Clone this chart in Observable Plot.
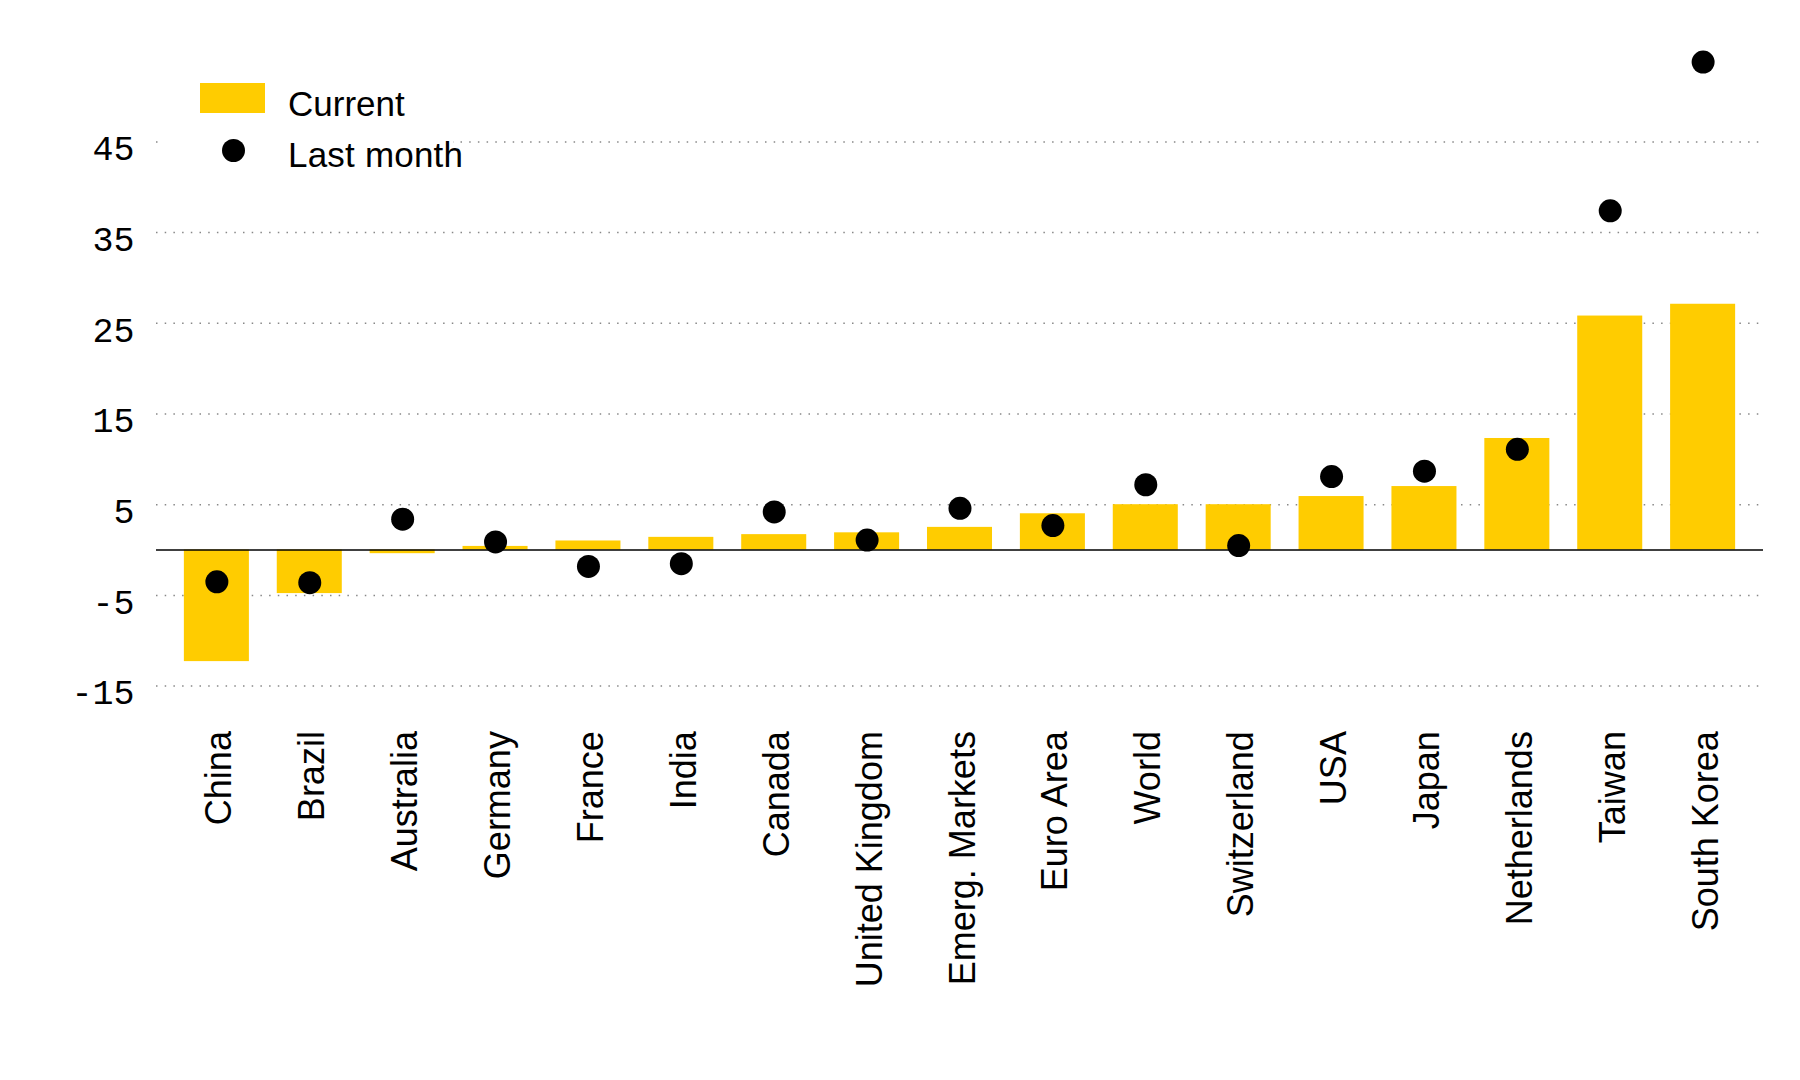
<!DOCTYPE html>
<html>
<head>
<meta charset="utf-8">
<script src="https://cdn.jsdelivr.net/npm/d3@7"></script>
<script src="https://cdn.jsdelivr.net/npm/@observablehq/plot@0.6"></script>
<style>
  html, body { margin: 0; padding: 0; background: #fff; }
  #wrap { position: relative; width: 1800px; height: 1080px; }
  #legend { position: absolute; left: 161px; top: 60px; width: 292px; height: 130px; background: #fff;
            font-family: "Liberation Sans", Arial, sans-serif; font-size: 35px; color: #000; }
  #legend .swatch { position: absolute; left: 39px; top: 23px; width: 65px; height: 30px; background: #FFCC00; }
  #legend .dot { position: absolute; left: 61px; top: 79px; width: 23px; height: 23px; border-radius: 50%; background: #000; }
  #legend .label { position: absolute; left: 127px; line-height: 35px; white-space: nowrap; }
</style>
</head>
<body>
<div id="wrap">
  <div id="chart"></div>
  <div id="legend">
    <div class="swatch"></div>
    <div class="label" style="top:26px">Current</div>
    <div class="dot"></div>
    <div class="label" style="top:77px; letter-spacing:0.2px">Last month</div>
  </div>
</div>
<script>
// Categories, sorted by current value
const categories = ["China", "Brazil", "Australia", "Germany", "France", "India", "Canada",
  "United Kingdom", "Emerg. Markets", "Euro Area", "World", "Switzerland", "USA", "Japan",
  "Netherlands", "Taiwan", "South Korea"];
const current = [-12.3, -4.8, -0.4, 0.4, 1.0, 1.4, 1.7, 1.9, 2.5, 4.0, 5.0, 5.0, 5.9, 7.0, 12.3, 25.8, 27.1];
const lastMonth = [-3.5, -3.6, 3.4, 0.9, -1.8, -1.5, 4.2, 1.1, 4.6, 2.7, 7.2, 0.5, 8.1, 8.7, 11.1, 37.4, 53.8];
const yTicks = [-15, -5, 5, 15, 25, 35, 45];

const rows = categories.map((name, i) => ({name, current: current[i], last: lastMonth[i]}));

const sans = '"Liberation Sans", Arial, sans-serif';
const mono = '"Liberation Mono", "DejaVu Sans Mono", monospace';

const chart = Plot.plot({
  width: 1800,
  height: 1080,
  marginLeft: 156,
  marginRight: 37,
  marginTop: 50.7,
  marginBottom: 394.4,
  style: {background: "#fff", color: "#000"},
  x: {domain: categories, padding: 0.3, round: false, label: null},
  y: {domain: [-15, 55], label: null},
  marks: [
    Plot.gridY(yTicks, {stroke: "#888", strokeOpacity: 1, strokeWidth: 1.5, strokeDasharray: "1.5,7.2"}),
    Plot.barY(rows, {x: "name", y: "current", fill: "#FFCC00"}),
    Plot.ruleY([0], {stroke: "#000", strokeWidth: 1.5}),
    Plot.dot(rows, {x: "name", y: "last", r: 11.5, fill: "#000", stroke: "none"}),
    Plot.axisY(yTicks, {tickSize: 0, tickPadding: 22, fontSize: 35, fontFamily: mono, dy: 7,
      tickFormat: (d) => String(d), label: null}),
    Plot.axisX({tickSize: 0, tickPadding: 45, tickRotate: -90, fontSize: 36, fontFamily: sans, dx: 3, label: null})
  ]
});
document.getElementById("chart").appendChild(chart);
</script>
</body>
</html>
